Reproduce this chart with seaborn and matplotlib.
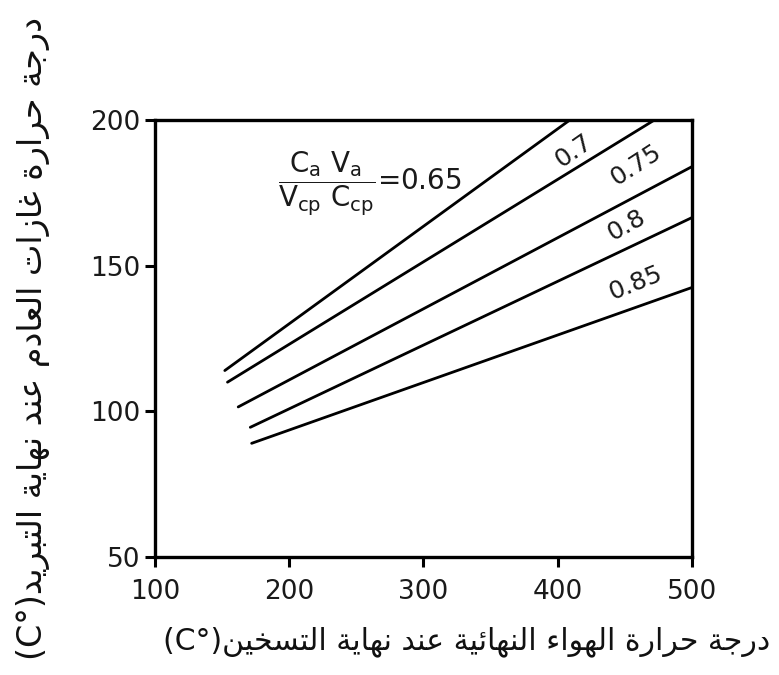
import pandas as pd
import matplotlib
matplotlib.use("Agg")
import matplotlib.pyplot as plt
import seaborn as sns

# Values
ratios = ["0.65", "0.7", "0.75", "0.8", "0.85"]
x_start = [152, 154, 162, 171, 172]
y_start = [114, 110, 101.5, 94.5, 89]
x_end = [409, 472, 500, 500, 500]
y_end = [200, 200, 184, 166.5, 142.5]

x_ticks = [100, 200, 300, 400, 500]
y_ticks = [50, 100, 150, 200]

x_label_ar = "درجة حرارة الهواء النهائية عند نهاية التسخين"
y_label_ar = "درجة حرارة غازات العادم عند نهاية التبريد"
unit = "(C°)"

# Arabic letter forms: isolated, final, initial, medial
FORMS = {
    "ا": ("\uFE8D", "\uFE8E", None, None),
    "ب": ("\uFE8F", "\uFE90", "\uFE91", "\uFE92"),
    "ة": ("\uFE93", "\uFE94", None, None),
    "ت": ("\uFE95", "\uFE96", "\uFE97", "\uFE98"),
    "ج": ("\uFE9D", "\uFE9E", "\uFE9F", "\uFEA0"),
    "ح": ("\uFEA1", "\uFEA2", "\uFEA3", "\uFEA4"),
    "خ": ("\uFEA5", "\uFEA6", "\uFEA7", "\uFEA8"),
    "د": ("\uFEA9", "\uFEAA", None, None),
    "ر": ("\uFEAD", "\uFEAE", None, None),
    "ز": ("\uFEAF", "\uFEB0", None, None),
    "س": ("\uFEB1", "\uFEB2", "\uFEB3", "\uFEB4"),
    "ع": ("\uFEC9", "\uFECA", "\uFECB", "\uFECC"),
    "غ": ("\uFECD", "\uFECE", "\uFECF", "\uFED0"),
    "ل": ("\uFEDD", "\uFEDE", "\uFEDF", "\uFEE0"),
    "م": ("\uFEE1", "\uFEE2", "\uFEE3", "\uFEE4"),
    "ن": ("\uFEE5", "\uFEE6", "\uFEE7", "\uFEE8"),
    "ه": ("\uFEE9", "\uFEEA", "\uFEEB", "\uFEEC"),
    "و": ("\uFEED", "\uFEEE", None, None),
    "ي": ("\uFEF1", "\uFEF2", "\uFEF3", "\uFEF4"),
    "ء": ("\uFE80", None, None, None),
    "ئ": ("\uFE89", "\uFE8A", "\uFE8B", "\uFE8C"),
}


def shape(text):
    # join letters, then reverse for left-to-right drawing
    out = []
    for i, ch in enumerate(text):
        if ch not in FORMS:
            out.append(ch)
            continue
        iso, fin, ini, med = FORMS[ch]
        prev = text[i - 1] if i > 0 else ""
        nxt = text[i + 1] if i + 1 < len(text) else ""
        jp = fin is not None and prev in FORMS and FORMS[prev][2] is not None
        jn = ini is not None and nxt in FORMS and FORMS[nxt][1] is not None
        if jp and jn:
            out.append(med)
        elif jp:
            out.append(fin)
        elif jn:
            out.append(ini)
        else:
            out.append(iso)
    return "".join(reversed(out))


rows = []
for r, x0, y0, x1, y1 in zip(ratios, x_start, y_start, x_end, y_end):
    rows.append({"ratio": r, "x": x0, "y": y0})
    rows.append({"ratio": r, "x": x1, "y": y1})
df = pd.DataFrame(rows)

sns.set_style("ticks")
plt.rcParams["font.family"] = ["DejaVu Sans"]
plt.rcParams["mathtext.fontset"] = "dejavusans"

fig = plt.figure(figsize=(7.79, 6.75), dpi=100)
ax = fig.add_axes([0.199, 0.175, 0.689, 0.647])

sns.lineplot(
    data=df,
    x="x",
    y="y",
    hue="ratio",
    palette=["black"] * len(ratios),
    estimator=None,
    linewidth=2.0,
    legend=False,
    ax=ax
)

ax.set_xlim(100, 500)
ax.set_ylim(50, 200)
ax.set_xticks(x_ticks)
ax.set_yticks(y_ticks)
ax.tick_params(axis="both", labelsize=19, length=7, width=2.2,
               direction="out", color="black", labelcolor="#1a1a1a")
ax.tick_params(axis="x", pad=9)
for s in ax.spines.values():
    s.set_linewidth(2.4)
    s.set_color("black")

# ratio labels
ax.text(260, 178,
        r"$\dfrac{\mathrm{C_a\ V_a}}{\mathrm{V_{cp}\ C_{cp}}}$=0.65",
        fontsize=20, ha="center", va="center", color="#1a1a1a")
label_pos = [(412, 189.5, 35), (458, 184.5, 33), (451, 164, 29), (458, 144, 22)]
for r, (lx, ly, rot) in zip(ratios[1:], label_pos):
    ax.text(lx, ly, r, fontsize=18, rotation=rot, ha="center", va="center",
            color="#1a1a1a", rotation_mode="anchor")

ax.set_xlabel(unit + shape(x_label_ar), fontsize=21.5, color="#111111")
ax.set_ylabel(unit + shape(y_label_ar), fontsize=24, color="#111111")
ax.xaxis.set_label_coords(0.58, -0.16)
ax.yaxis.set_label_coords(-0.196, 0.5)

plt.savefig("out.png", dpi=100)
